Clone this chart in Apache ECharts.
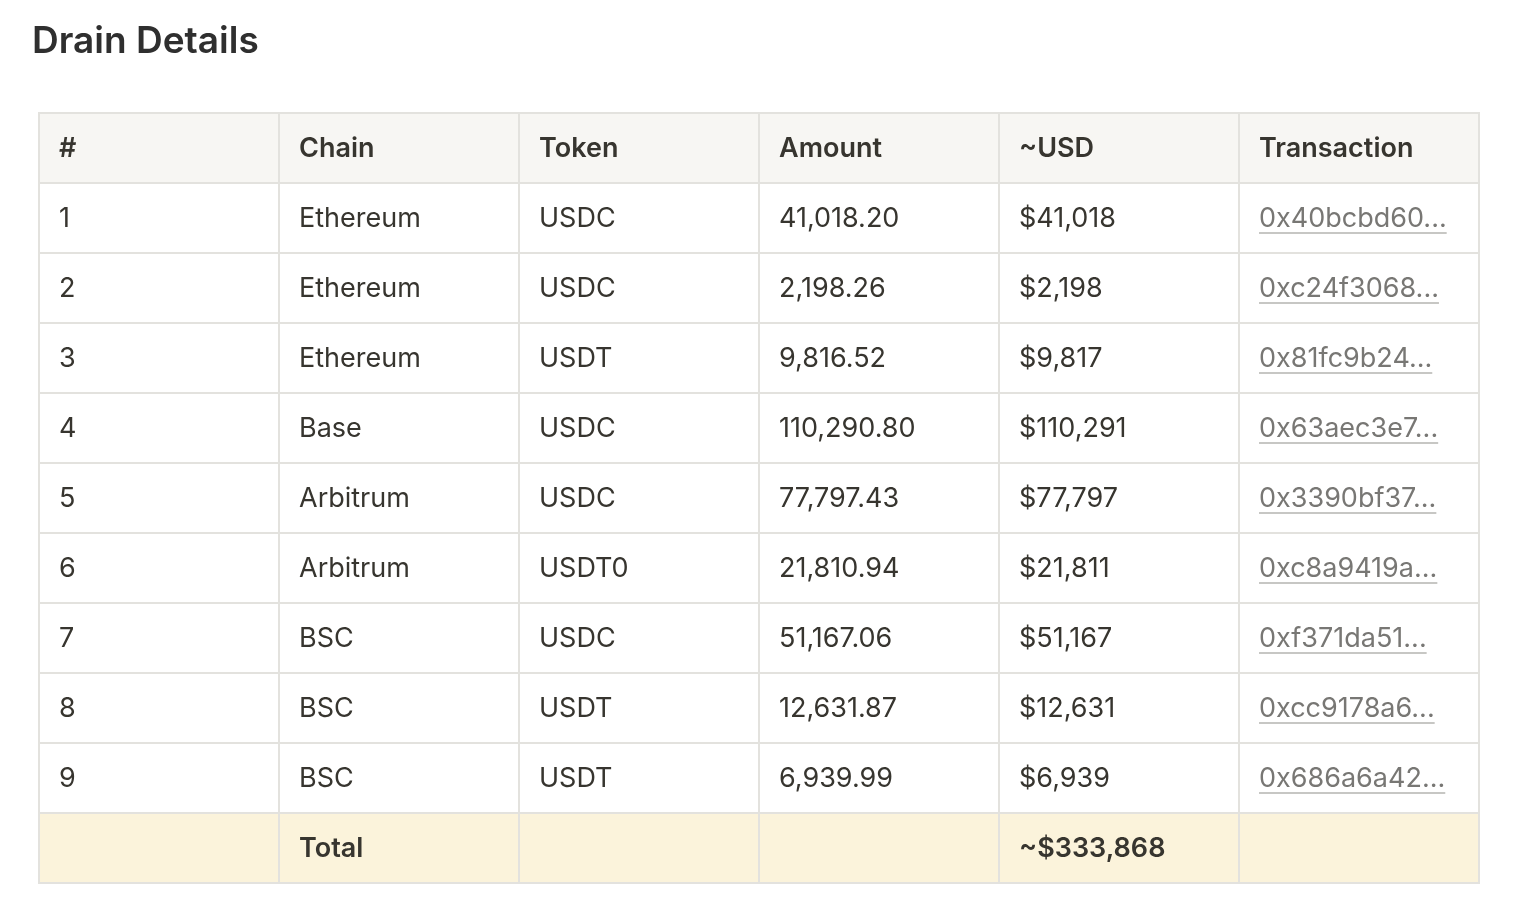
<!DOCTYPE html>
<html><head><meta charset="utf-8">
<script src="https://cdn.jsdelivr.net/npm/echarts@6/dist/echarts.min.js"></script>
<style>html,body{margin:0;background:#fff}#c{width:1524px;height:906px}</style>
</head><body><div id="c"></div>
<script>
const title = "Drain Details";
const headers = ["#", "Chain", "Token", "Amount", "~USD", "Transaction"];
const idx = ["1","2","3","4","5","6","7","8","9"];
const chains = ["Ethereum","Ethereum","Ethereum","Base","Arbitrum","Arbitrum","BSC","BSC","BSC"];
const tokens = ["USDC","USDC","USDT","USDC","USDC","USDT0","USDC","USDT","USDT"];
const amounts = ["41,018.20","2,198.26","9,816.52","110,290.80","77,797.43","21,810.94","51,167.06","12,631.87","6,939.99"];
const usd = ["$41,018","$2,198","$9,817","$110,291","$77,797","$21,811","$51,167","$12,631","$6,939"];
const txs = ["0x40bcbd60...","0xc24f3068...","0x81fc9b24...","0x63aec3e7...","0x3390bf37...","0xc8a9419a...","0xf371da51...","0xcc9178a6...","0x686a6a42..."];
const totalRow = ["", "Total", "", "", "~$333,868", ""];

const FONT = 'Inter, "Noto Sans", sans-serif';
const data = [];
headers.forEach((h,c)=>data.push([c,0,h,'head']));
idx.forEach((v,r)=>{
  [v,chains[r],tokens[r],amounts[r],usd[r],txs[r]].forEach((t,c)=>data.push([c,r+1,t,c===5?'link':'body']));
});
totalRow.forEach((t,c)=>data.push([c,10,t,'total']));

const cv=document.createElement('canvas').getContext('2d');
function tw(t,f){cv.font=f;return cv.measureText(t).width;}

const chart=echarts.init(document.getElementById('c'));
chart.setOption({
  animation:false,
  title:{text:title,left:27,top:18,textStyle:{fontFamily:FONT,fontSize:37,fontWeight:600,color:'#2f2f2f'}},
  grid:{left:39,right:45,top:113,bottom:23},
  xAxis:{type:'value',min:0,max:6,show:false},
  yAxis:{type:'value',min:0,max:11,inverse:true,show:false},
  series:[{type:'custom',data:data,renderItem:(params,api)=>{
    const c=api.value(0),r=api.value(1);
    const it=data[params.dataIndex];
    const p0=api.coord([c,r]),p1=api.coord([c+1,r+1]);
    const w=p1[0]-p0[0],h=p1[1]-p0[1];
    const kind=it[3];
    const fill=kind==='head'?'#f7f6f3':kind==='total'?'#fbf3db':'#fff';
    const bold=(kind==='head'||kind==='total');
    const color=kind==='link'?'#787774':'#37352f';
    const fs=27;
    const ch=[{type:'rect',shape:{x:p0[0],y:p0[1],width:w,height:h},style:{fill:fill,stroke:'#e3e2de',lineWidth:2}},
      {type:'text',style:{x:p0[0]+20,y:p0[1]+h/2+1,text:it[2],fill:color,font:(bold?'600 ':'400 ')+fs+'px '+FONT,verticalAlign:'middle',textAlign:'left'}}];
    if(kind==='link'){
      const L=tw(it[2],'400 '+fs+'px '+FONT);
      ch.push({type:'line',shape:{x1:p0[0]+20,y1:p0[1]+h/2+15,x2:p0[0]+20+L,y2:p0[1]+h/2+15},style:{stroke:'#b5b4b0',lineWidth:1.5}});
    }
    return {type:'group',children:ch};
  }}]
});
</script></body></html>
